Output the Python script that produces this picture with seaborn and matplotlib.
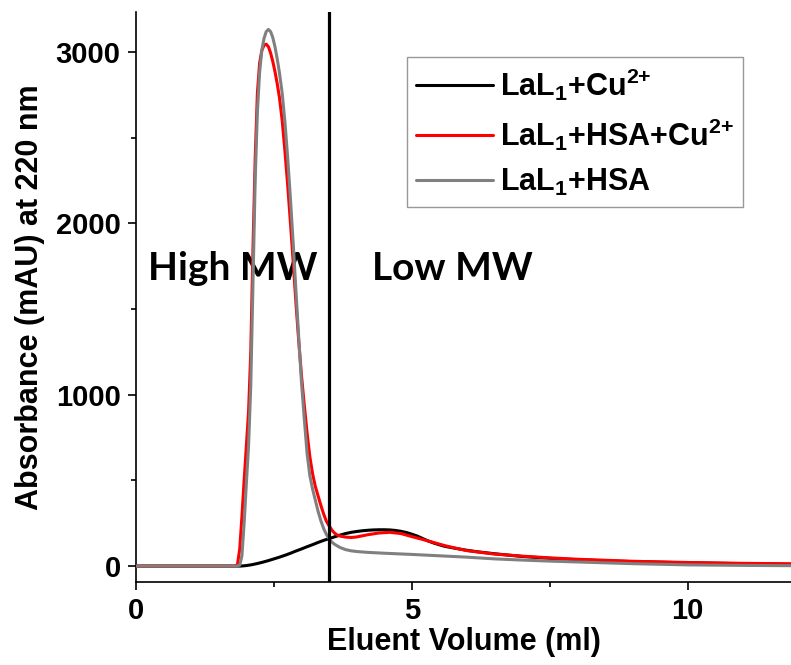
import numpy as np
import pandas as pd
import matplotlib
matplotlib.use("Agg")
import matplotlib.pyplot as plt
from matplotlib.ticker import MultipleLocator
import seaborn as sns

# Elution profiles (absorbance at 220 nm, mAU) vs eluent volume (ml)
cu_x = [0, 1.90, 2.0, 2.1, 2.2, 2.3, 2.4, 2.5, 2.6, 2.7, 2.8, 2.9, 3.0, 3.1, 3.2, 3.3,
        3.4, 3.5, 3.6, 3.7, 3.8, 3.9, 4.0, 4.1, 4.2, 4.3, 4.4, 4.5, 4.6, 4.7, 4.8, 4.9,
        5.0, 5.1, 5.2, 5.3, 5.4, 5.5, 5.6, 5.8, 6.0, 6.2, 6.5, 7.0, 7.5, 8.0, 8.5, 9.0,
        10.0, 11.0, 12.0]
cu_y = [0, 0, 3, 8, 15, 23, 32, 42, 52, 63, 75, 88, 100, 113, 125, 138,
        150, 160, 171, 181, 190, 197, 202, 206, 209, 211, 212, 212, 211, 208, 203, 196,
        186, 175, 160, 146, 134, 124, 115, 103, 92, 83, 72, 56, 45, 37, 31, 26,
        19, 14, 10]

hsa_cu_x = [0.0, 1.80, 1.84, 1.88, 1.92, 1.96, 2.00, 2.04, 2.08, 2.12, 2.16, 2.20, 2.24,
            2.28, 2.32, 2.36, 2.40, 2.44, 2.48, 2.52, 2.56, 2.60, 2.65, 2.70, 2.75, 2.80,
            2.85, 2.90, 2.95, 3.00, 3.05, 3.10, 3.15, 3.20, 3.25, 3.30, 3.35, 3.40, 3.45,
            3.50, 3.55, 3.60, 3.65, 3.70, 3.80, 3.90, 4.0, 4.2, 4.4, 4.6, 4.8, 5.0, 5.2,
            5.4, 5.6, 5.8, 6.0, 6.5, 7.0, 7.5, 8.0, 9.0, 10.0, 11.0, 12.0]
hsa_cu_y = [0, 0, 10, 100, 290, 500, 700, 900, 1250, 1850, 2380, 2760, 2935,
            3010, 3040, 3047, 3032, 2995, 2945, 2885, 2815, 2735, 2600, 2420, 2220, 2000,
            1770, 1530, 1310, 1110, 940, 780, 640, 540, 465, 410, 355, 305, 262,
            235, 210, 192, 181, 175, 169, 167, 170, 183, 193, 197, 190, 172, 155,
            137, 119, 104, 90, 70, 58, 48, 40, 28, 21, 16, 13]

hsa_x = [0.0, 1.82, 1.88, 1.92, 1.96, 2.00, 2.04, 2.08, 2.12, 2.16, 2.20, 2.24, 2.28,
         2.32, 2.36, 2.40, 2.44, 2.48, 2.52, 2.56, 2.60, 2.65, 2.70, 2.75, 2.80, 2.85,
         2.90, 2.95, 3.00, 3.05, 3.10, 3.15, 3.20, 3.25, 3.30, 3.35, 3.40, 3.45, 3.50,
         3.55, 3.60, 3.70, 3.80, 3.90, 4.0, 4.2, 4.5, 5.0, 5.5, 6.0, 6.5, 7.0, 7.5, 8.0,
         9.0, 10.0, 11.0, 12.0]
hsa_y = [0, 0, 5, 60, 250, 480, 700, 1050, 1650, 2250, 2650, 2880, 3010,
         3080, 3120, 3133, 3120, 3085, 3030, 2960, 2880, 2760, 2590, 2380, 2140, 1880,
         1600, 1330, 1070, 860, 660, 530, 450, 385, 320, 265, 220, 185, 160,
         140, 127, 108, 96, 89, 85, 80, 75, 68, 60, 52, 42, 35, 29, 24,
         14, 7, 4, 2]

labels = [r"LaL$_\mathbf{1}$+Cu$^\mathbf{2{+}}$",
          r"LaL$_\mathbf{1}$+HSA+Cu$^\mathbf{2{+}}$",
          r"LaL$_\mathbf{1}$+HSA"]
colors = ["#000000", "#ff0000", "#808080"]
divider_x = 3.5
region_labels = ["High MW", "Low MW"]

sns.set_theme(style="ticks")
plt.rcParams["font.family"] = ["Liberation Sans", "DejaVu Sans"]
plt.rcParams["font.weight"] = "bold"
plt.rcParams["text.color"] = "black"
plt.rcParams["axes.labelcolor"] = "black"
plt.rcParams["xtick.color"] = "black"
plt.rcParams["ytick.color"] = "black"
plt.rcParams["mathtext.fontset"] = "custom"
plt.rcParams["mathtext.rm"] = "Liberation Sans:bold"
plt.rcParams["mathtext.bf"] = "Liberation Sans:bold"
plt.rcParams["mathtext.it"] = "Liberation Sans:bold"

fig = plt.figure(figsize=(7.91, 6.65), dpi=100)
ax = fig.add_axes([0.1719, 0.1248, 0.8281, 0.857])

series = [(cu_x, cu_y), (hsa_cu_x, hsa_cu_y), (hsa_x, hsa_y)]
for (xs, ys), lab, col in zip(series, labels, colors):
    df = pd.DataFrame({"volume": xs, "absorbance": ys})
    sns.lineplot(data=df, x="volume", y="absorbance", ax=ax, color=col,
                 linewidth=2.2, label=lab, sort=False, estimator=None, zorder=3)

ax.axvline(divider_x, color="black", linewidth=2.3, zorder=4)

ax.text(0.22, 1740, region_labels[0], family="Lato", fontweight="bold",
        fontsize=28, va="center", ha="left", color="black", zorder=1)
ax.text(4.28, 1740, region_labels[1], family="Lato", fontweight="bold",
        fontsize=28, va="center", ha="left", color="black", zorder=1)

ax.set_xlim(0, 11.87)
ax.set_ylim(-93, 3234)
ax.xaxis.set_major_locator(MultipleLocator(5))
ax.xaxis.set_minor_locator(MultipleLocator(2.5))
ax.yaxis.set_major_locator(MultipleLocator(1000))
ax.yaxis.set_minor_locator(MultipleLocator(500))

ax.tick_params(which="major", direction="out", length=6, width=1.2,
               labelsize=21, color="black", labelcolor="black", pad=5)
ax.tick_params(which="minor", direction="out", length=3.5, width=1.2,
               color="black")
for t in ax.get_xticklabels() + ax.get_yticklabels():
    t.set_fontweight("bold")

ax.set_xlabel("Eluent Volume (ml)", fontsize=22, fontweight="bold", labelpad=1,
              color="black")
ax.set_ylabel("Absorbance (mAU) at 220 nm", fontsize=22, fontweight="bold",
              labelpad=8, color="black")

sns.despine(ax=ax)
for side in ("left", "bottom"):
    ax.spines[side].set_linewidth(1.2)
    ax.spines[side].set_color("black")

leg = ax.legend(loc="upper left", bbox_to_anchor=(0.4137, 0.921), borderaxespad=0,
                fontsize=22, frameon=True, fancybox=False, handlelength=2.5,
                handletextpad=0.25, borderpad=0.3, labelspacing=0.45)
leg.get_frame().set_edgecolor("#7f7f7f")
leg.get_frame().set_linewidth(1.0)
for txt in leg.get_texts():
    txt.set_fontweight("bold")
    txt.set_color("black")

fig.savefig("out.png", dpi=100)
